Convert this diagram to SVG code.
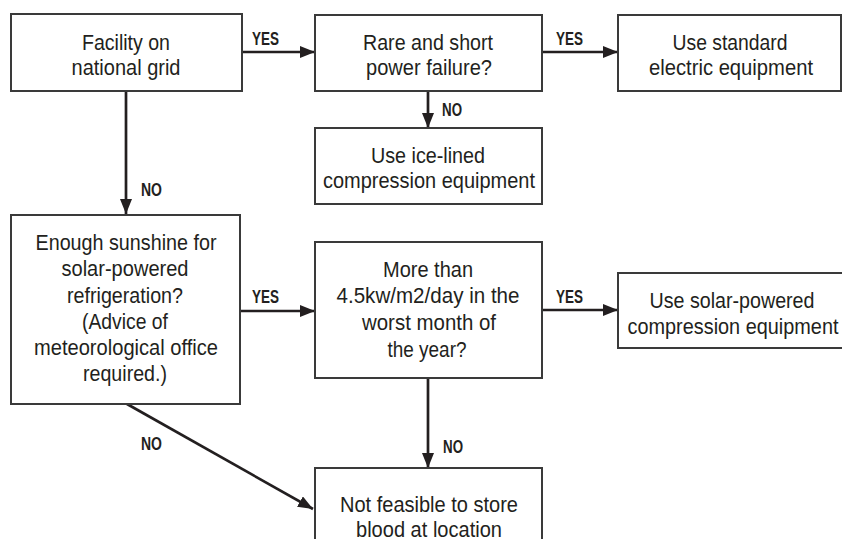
<svg xmlns="http://www.w3.org/2000/svg" width="842" height="539" viewBox="0 0 842 539">
<style>
.box{fill:#fff;stroke:#3a3a3a;stroke-width:2}
.t{font-family:"Liberation Sans",Arial,sans-serif;font-size:22.5px;fill:#231f20;text-anchor:middle}
.l{font-family:"Liberation Sans",Arial,sans-serif;font-size:17.5px;font-weight:bold;fill:#231f20}
.c{stroke:#231f20;stroke-width:2.7;fill:none;marker-end:url(#ah)}
</style>
<defs>
<marker id="ah" markerUnits="userSpaceOnUse" markerWidth="16" markerHeight="13" refX="15" refY="6" orient="auto" viewBox="0 0 16 13">
<path d="M0,0 L15,6 L0,12 z" fill="#231f20"/>
</marker>
</defs>
<rect width="842" height="539" fill="#fff"/>
<g id="connectors">
<line class="c" x1="242" y1="52" x2="315" y2="52"/>
<line class="c" x1="542" y1="52" x2="618" y2="52"/>
<line class="c" x1="428" y1="91" x2="428" y2="128"/>
<line class="c" x1="126" y1="91" x2="126" y2="214"/>
<line class="c" x1="240" y1="311" x2="315" y2="311"/>
<line class="c" x1="542" y1="310" x2="618" y2="310"/>
<line class="c" x1="428" y1="378" x2="428" y2="468"/>
<line class="c" x1="127" y1="404" x2="313" y2="509"/>
<text class="l" x="252" y="45" textLength="27" lengthAdjust="spacingAndGlyphs">YES</text>
<text class="l" x="556" y="45" textLength="27" lengthAdjust="spacingAndGlyphs">YES</text>
<text class="l" x="442" y="116" textLength="20" lengthAdjust="spacingAndGlyphs">NO</text>
<text class="l" x="141" y="196" textLength="21" lengthAdjust="spacingAndGlyphs">NO</text>
<text class="l" x="252" y="303" textLength="27" lengthAdjust="spacingAndGlyphs">YES</text>
<text class="l" x="556" y="303" textLength="27" lengthAdjust="spacingAndGlyphs">YES</text>
<text class="l" x="443" y="453" textLength="20" lengthAdjust="spacingAndGlyphs">NO</text>
<text class="l" x="141" y="450" textLength="21" lengthAdjust="spacingAndGlyphs">NO</text>
</g>
<g id="n1">
<rect class="box" x="11" y="14" width="231" height="77"/>
<text class="t" x="126" y="50" textLength="88" lengthAdjust="spacingAndGlyphs">Facility on</text>
<text class="t" x="126" y="75" textLength="109" lengthAdjust="spacingAndGlyphs">national grid</text>
</g>
<g id="n2">
<rect class="box" x="315" y="15" width="227" height="76"/>
<text class="t" x="428" y="50" textLength="130" lengthAdjust="spacingAndGlyphs">Rare and short</text>
<text class="t" x="429" y="75" textLength="126" lengthAdjust="spacingAndGlyphs">power failure?</text>
</g>
<g id="n3">
<rect class="box" x="618" y="15" width="223" height="76"/>
<text class="t" x="730" y="50" textLength="115" lengthAdjust="spacingAndGlyphs">Use standard</text>
<text class="t" x="731" y="75" textLength="164" lengthAdjust="spacingAndGlyphs">electric equipment</text>
</g>
<g id="n4">
<rect class="box" x="315" y="128" width="227" height="76"/>
<text class="t" x="428" y="163" textLength="114" lengthAdjust="spacingAndGlyphs">Use ice-lined</text>
<text class="t" x="429" y="188" textLength="212" lengthAdjust="spacingAndGlyphs">compression equipment</text>
</g>
<g id="n5">
<rect class="box" x="11" y="215" width="229" height="189"/>
<text class="t" x="126" y="250" textLength="181" lengthAdjust="spacingAndGlyphs">Enough sunshine for</text>
<text class="t" x="125" y="276" textLength="127" lengthAdjust="spacingAndGlyphs">solar-powered</text>
<text class="t" x="125" y="303" textLength="116" lengthAdjust="spacingAndGlyphs">refrigeration?</text>
<text class="t" x="125" y="329" textLength="86" lengthAdjust="spacingAndGlyphs">(Advice of</text>
<text class="t" x="126" y="355" textLength="184" lengthAdjust="spacingAndGlyphs">meteorological office</text>
<text class="t" x="125" y="381" textLength="84" lengthAdjust="spacingAndGlyphs">required.)</text>
</g>
<g id="n6">
<rect class="box" x="315" y="242" width="227" height="136"/>
<text class="t" x="428" y="277" textLength="90" lengthAdjust="spacingAndGlyphs">More than</text>
<text class="t" x="428" y="303" textLength="183" lengthAdjust="spacingAndGlyphs">4.5kw/m2/day in the</text>
<text class="t" x="429" y="330" textLength="134" lengthAdjust="spacingAndGlyphs">worst month of</text>
<text class="t" x="427" y="357" textLength="79" lengthAdjust="spacingAndGlyphs">the year?</text>
</g>
<g id="n7">
<rect class="box" x="618" y="273" width="230" height="75"/>
<text class="t" x="732" y="308" textLength="165" lengthAdjust="spacingAndGlyphs">Use solar-powered</text>
<text class="t" x="733" y="334" textLength="211" lengthAdjust="spacingAndGlyphs">compression equipment</text>
</g>
<g id="n8">
<rect class="box" x="315" y="468" width="227" height="80"/>
<text class="t" x="429" y="512" textLength="178" lengthAdjust="spacingAndGlyphs">Not feasible to store</text>
<text class="t" x="429" y="537" textLength="146" lengthAdjust="spacingAndGlyphs">blood at location</text>
</g>
</svg>
